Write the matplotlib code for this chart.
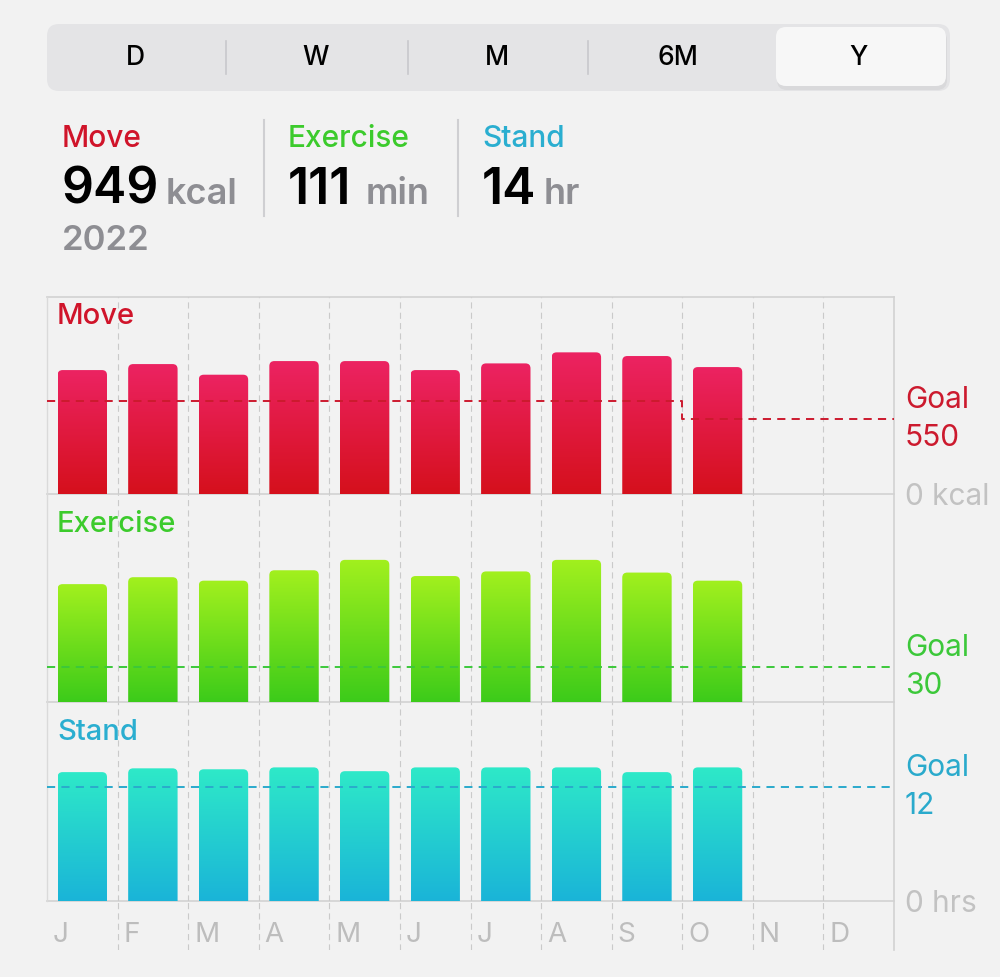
import numpy as np
import matplotlib as mpl
mpl.use('Agg')
from matplotlib import pyplot as plt
from matplotlib.patches import FancyBboxPatch
from matplotlib.colors import LinearSegmentedColormap
from matplotlib.transforms import blended_transform_factory

plt.rcParams['font.family'] = ['Inter', 'DejaVu Sans']

# data (Jan..Oct 2022, Nov/Dec empty)
months = ['J', 'F', 'M', 'A', 'M', 'J', 'J', 'A', 'S', 'O', 'N', 'D']
move_kcal = [909, 953, 875, 975, 975, 909, 958, 1039, 1012, 931]
exercise_min = [102, 108, 105, 114, 123, 109, 113, 123, 112, 105]
stand_hr = [13.6, 14.0, 13.9, 14.1, 13.7, 14.1, 14.1, 14.1, 13.6, 14.1]
move_goal = [680] * 9 + [550] * 3
exercise_goal = [30] * 12
stand_goal = [12] * 12
tabs = ['D', 'W', 'M', '6M', 'Y']
summary = [('Move', '949', 'kcal'), ('Exercise', '111', 'min'), ('Stand', '14', 'hr')]
year = '2022'

BG = '#f2f2f2'
RED, GREEN, CYAN = '#d0142a', '#3ccb2c', '#2aaed0'
GRID = '#cacaca'
W, H = 1000, 977

fig = plt.figure(figsize=(W / 100, H / 100), dpi=100, facecolor=BG)
ov = fig.add_axes([0, 0, 1, 1], zorder=0)
ov.set_xlim(0, W)
ov.set_ylim(H, 0)
ov.axis('off')

# segmented control
ov.add_patch(FancyBboxPatch((47, 24), 903, 67, boxstyle='round,pad=0,rounding_size=12',
                            fc='#e4e4e6', ec='none'))
ov.add_patch(FancyBboxPatch((777, 30), 170, 60, boxstyle='round,pad=0,rounding_size=10',
                            fc='#d2d2d4', ec='none', alpha=0.6))
ov.add_patch(FancyBboxPatch((776, 27), 170, 59, boxstyle='round,pad=0,rounding_size=10',
                            fc='#f7f7f7', ec='none'))
for i, t in enumerate(tabs):
    ov.text(135 + i * 181, 58, t, ha='center', va='center', fontsize=19,
            fontweight='medium', color='black')
for xs in [226, 408, 588]:
    ov.plot([xs, xs], [41, 74], color='#c8c8cc', lw=1.2)

# header summary
cols = [RED, GREEN, CYAN]
xs0 = [62, 288, 482]
unit_dx = [104, 78, 62]
for (name, val, unit), c, x0, dx in zip(summary, cols, xs0, unit_dx):
    ov.text(x0, 147, name, color=c, fontsize=21.5, fontweight='medium', va='baseline')
    ov.text(x0, 204, val, color='black', fontsize=36, fontweight='semibold', va='baseline')
    ov.text(x0 + dx, 204, unit, color='#8e8e93', fontsize=26, fontweight='semibold', va='baseline')
ov.text(62, 250, year, color='#8e8e93', fontsize=25, fontweight='semibold', va='baseline')
for xs in [264, 458]:
    ov.plot([xs, xs], [120, 216], color='#cfcfd2', lw=1.5)

# chart frame
L, R = 47, 894
bounds = [297, 494, 702, 901, 950]
for y in bounds[:4]:
    ov.plot([L, R], [y, y], color='#d2d2d2', lw=1.2)
ov.plot([L, L], [297, 901], color='#dadada', lw=1.0)
ov.plot([R, R], [297, 950], color='#d2d2d2', lw=1.2)


def px_axes(top, bottom):
    return fig.add_axes([L / W, 1 - bottom / H, (R - L) / W, (bottom - top) / H], zorder=1)


def grad_bars(ax, values, top_c, bot_c):
    cmap = LinearSegmentedColormap.from_list('g', [bot_c, top_c])
    bars = ax.bar(np.arange(len(values)), values, width=0.7, color='none', ec='none')
    p0 = ax.transData.transform((0, 0))
    ppx = ax.transData.transform((1, 0))[0] - p0[0]
    ppy = ax.transData.transform((0, 1))[1] - p0[1]
    rx = 5 / ppx
    ry = 5 / ppy
    grad = np.linspace(0, 1, 256).reshape(-1, 1)
    for b in bars:
        x, w, h = b.get_x(), b.get_width(), b.get_height()
        patch = FancyBboxPatch((x, -2 * ry), w, h + 2 * ry,
                               boxstyle='round,pad=0,rounding_size=%f' % rx,
                               mutation_aspect=ppx / ppy, fc='none', ec='none')
        ax.add_patch(patch)
        im = ax.imshow(grad, extent=(x, x + w, 0, h), origin='lower', aspect='auto',
                       cmap=cmap, zorder=2)
        im.set_clip_path(patch)


def panel(top, bottom, ymax, values, goal, top_c, bot_c, line_c, label, label_c,
          zero_lbl, label_dy):
    ax = px_axes(top, bottom)
    ax.set_xlim(-0.5, 11.5)
    ax.set_ylim(0, ymax)
    ax.axis('off')
    for xb in np.arange(0.5, 11.5, 1):
        ax.axvline(xb, color=GRID, lw=0.8, dashes=(5.5, 3.8), zorder=1)
    grad_bars(ax, values, top_c, bot_c)
    ax.set_xlim(-0.5, 11.5)
    ax.set_ylim(0, ymax)
    edges = np.arange(-0.5, 12, 1)
    ax.step(edges, list(goal) + [goal[-1]], where='post', color=line_c, lw=1.4,
            dashes=(4.2, 3.2), zorder=3)
    ax.text(10 / (R - L), 1 - label_dy / (bottom - top), label, transform=ax.transAxes,
            color=label_c, fontsize=21, fontweight='medium', va='center', ha='left')
    tr = blended_transform_factory(ov.transData, ax.transData)
    ax.text(905, goal[-1], 'Goal\n%d' % goal[-1], transform=tr, color=line_c, fontsize=21.5,
            va='center', ha='left', linespacing=1.45, clip_on=False)
    if zero_lbl:
        ax.text(905, 0, zero_lbl, transform=tr, color='#c2c2c2', fontsize=21.5,
                va='center_baseline', ha='left', clip_on=False)
    return ax


panel(297, 494, 1445, move_kcal, move_goal, '#ec2362', '#d5101c', '#cc1a2e',
      'Move', RED, '0 kcal', 19)
panel(494, 702, 180, exercise_min, exercise_goal, '#a2f01e', '#3ccb1a', '#3cc83a',
      'Exercise', GREEN, None, 30)
panel(702, 901, 21, stand_hr, stand_goal, '#2ee9c8', '#1ab4d8', '#2aaacc',
      'Stand', CYAN, '0 hrs', 30)

# month strip
axm = px_axes(901, 950)
axm.set_xlim(-0.5, 11.5)
axm.set_ylim(0, 1)
axm.axis('off')
for xb in np.arange(0.5, 11.5, 1):
    axm.axvline(xb, color=GRID, lw=0.8, dashes=(5.5, 3.8))
for i, m in enumerate(months):
    axm.text(i - 0.5 + 6 / 70.6, 0.3, m, color='#bdbdbd', fontsize=20, va='center', ha='left')

fig.savefig('out.png', dpi=100, facecolor=BG)
